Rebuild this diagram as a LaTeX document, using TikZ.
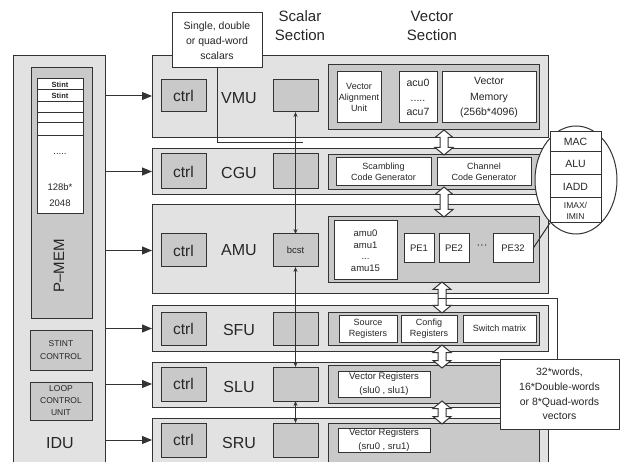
\documentclass[tikz,border=0pt]{standalone}
\usepackage{fontspec}
\setmainfont{Liberation Sans}
\usetikzlibrary{arrows.meta,shapes.geometric}
\definecolor{linec}{gray}{0.2}
\definecolor{rowgray}{gray}{0.885}
\definecolor{boxgray}{gray}{0.79}
% box given by its corners: name, style, x1, y1, x2, y2, text
\newcommand\cell[7]{\node[#2,anchor=north west,minimum width={(#5-#3)*1pt},minimum height={(#6-#4)*1pt}] (#1) at (#3,#4) {#7};}
\newcommand\fs[2]{\fontsize{#1}{#2}\selectfont}
% white double-headed bus arrow: x, top tip, bottom tip
\newcommand\busarrow[3]{\draw[frame,fill=white] (#1,#2) -- (#1+9,#2+7.5) -- (#1+4,#2+7.5) -- (#1+4,#3-7.5) -- (#1+9,#3-7.5) -- (#1,#3) -- (#1-9,#3-7.5) -- (#1-4,#3-7.5) -- (#1-4,#2+7.5) -- (#1-9,#2+7.5) -- cycle;}
\begin{document}
\begin{tikzpicture}[x=1pt,y=-1pt,
  every node/.style={inner sep=1pt,outer sep=0pt,text=black!85},
  frame/.style={draw=linec,line width=1pt},
  unitrow/.style={frame,fill=rowgray},
  darkbox/.style={frame,fill=boxgray},
  whitebox/.style={frame,fill=white},
  ctrlbox/.style={darkbox,font=\fs{15.5}{17}},
  unitlbl/.style={font=\fs{16}{18}},
  small/.style={font=\fs{9}{11},align=center},
  feed/.style={frame,-{Triangle[length=10pt,width=8pt]}},
  scalbus/.style={frame,line width=0.9pt,{Stealth[length=5pt,width=4pt]}-{Stealth[length=5pt,width=4pt]}}]
\useasboundingbox (0,0) rectangle (629,462);
\clip (0,0) rectangle (629,462);

% ---- instruction decode unit ----
\cell{idu}{unitrow}{13}{56}{105}{480}{}
\cell{pmem}{darkbox}{31}{68}{92}{318}{}
\cell{st1}{whitebox,font=\bfseries\fs{7.5}{8}}{37}{79}{83}{90}{Stint}
\cell{st2}{whitebox,font=\bfseries\fs{7.5}{8}}{37}{90}{83}{102}{Stint}
\cell{st3}{whitebox}{37}{102}{83}{113}{}
\cell{st4}{whitebox}{37}{113}{83}{123}{}
\cell{st5}{whitebox}{37}{123}{83}{136}{}
\cell{st6}{whitebox}{37}{136}{83}{214}{}
\node[font=\fs{9.5}{11}] (stdots) at (60,154) {.....};
\node[font=\fs{9.5}{16},align=center] (stsize) at (60,195) {128b*\\2048};
\node[rotate=90,font=\fs{15}{17}] (pmemtxt) at (59,266) {P\textendash MEM};
\cell{stintctl}{darkbox,font=\fs{8.5}{13},align=center}{30}{330}{92}{370}{STINT\\CONTROL}
\cell{loopctl}{darkbox,font=\fs{8.5}{12},align=center}{30}{382}{92}{420}{LOOP\\CONTROL\\UNIT}
\node[font=\fs{16}{18}] (idutxt) at (60,443) {IDU};

% ---- section headings ----
\node[font=\fs{15}{19},align=center] (scalhead) at (300,26) {Scalar\\Section};
\node[font=\fs{15}{19},align=center] (vechead) at (432,26) {Vector\\Section};

% ---- unit rows ----
\cell{vmu}{unitrow}{152}{56}{548}{138}{}
\cell{cgu}{unitrow}{152}{149}{548}{195}{}
\cell{amu}{unitrow}{152}{205}{548}{294}{}
\cell{sfu}{unitrow}{152}{306}{548}{351}{}
\cell{slu}{unitrow}{152}{362}{548}{407}{}
\cell{sru}{unitrow}{152}{418}{548}{480}{}

% control boxes
\cell{vmuctrl}{ctrlbox}{161}{80}{206}{112}{ctrl}
\cell{cguctrl}{ctrlbox}{161}{154}{206}{189}{ctrl}
\cell{amuctrl}{ctrlbox}{161}{234}{206}{267}{ctrl}
\cell{sfuctrl}{ctrlbox}{161}{312}{206}{345}{ctrl}
\cell{sluctrl}{ctrlbox}{161}{367}{206}{401}{ctrl}
\cell{sructrl}{ctrlbox}{161}{423}{206}{457}{ctrl}

% unit names
\node[unitlbl] (vmutxt) at (239,98) {VMU};
\node[unitlbl] (cgutxt) at (239,172.5) {CGU};
\node[unitlbl] (amutxt) at (239,250) {AMU};
\node[unitlbl] (sfutxt) at (239,329.5) {SFU};
\node[unitlbl] (slutxt) at (239,387) {SLU};
\node[unitlbl] (srutxt) at (239,442.5) {SRU};

% scalar boxes
\cell{vmuscal}{darkbox}{273}{80}{318}{112}{}
\cell{cguscal}{darkbox}{273}{154}{318}{189}{}
\cell{amuscal}{darkbox,font=\fs{9.5}{11}}{273}{234}{318}{267}{bcst}
\cell{sfuscal}{darkbox}{273}{312}{318}{345}{}
\cell{sluscal}{darkbox}{273}{367}{318}{401}{}
\cell{sruscal}{darkbox}{273}{423}{318}{457}{}

% ---- vector section ----
\cell{vmuvec}{darkbox}{328}{65}{539}{130}{}
\cell{vau}{whitebox,font=\fs{9}{11},align=center}{337}{72}{381}{123}{Vector\\Alignment\\Unit}
\cell{acu}{whitebox,font=\fs{10.5}{14.5},align=center}{399}{72}{437}{123}{acu0\\.....\\acu7}
\cell{vmem}{whitebox,font=\fs{10.5}{15.5},align=center}{442}{72}{536}{123}{Vector\\Memory\\(256b*4096)}

\cell{cguvec}{darkbox}{328}{155}{539}{190}{}
\cell{scram}{whitebox,small}{336}{158}{431}{186}{Scambling\\Code Generator}
\cell{chan}{whitebox,small}{437}{158}{531}{186}{Channel\\Code Generator}

\cell{amuvec}{darkbox}{328}{217}{539}{283}{}
\cell{amureg}{whitebox,font=\fs{9.5}{11.5},align=center}{334}{221}{397}{280}{amu0\\amu1\\...\\amu15}
\cell{pe1}{whitebox,font=\fs{9.5}{11}}{404}{234}{434}{263}{PE1}
\cell{pe2}{whitebox,font=\fs{9.5}{11}}{439}{234}{469}{263}{PE2}
\node[font=\fs{11}{12}] (pedots) at (482,247) {\textperiodcentered\textperiodcentered\textperiodcentered};
\cell{pe32}{whitebox,font=\fs{9.5}{11}}{493}{234}{533}{263}{PE32}

\cell{sfuvec}{darkbox}{328}{312}{539}{345}{}
\cell{srcreg}{whitebox,small}{339}{315}{397}{342}{Source\\Registers}
\cell{cfgreg}{whitebox,small}{401}{315}{457}{342}{Config\\Registers}
\cell{swm}{whitebox,small}{463}{315}{536}{342}{Switch matrix}

\cell{sluvec}{darkbox}{328}{365}{539}{403}{}
\cell{sluvr}{whitebox,font=\fs{9.5}{14},align=center}{338}{371}{430}{397}{Vector Registers\\(slu0 , slu1)}
\cell{sruvec}{darkbox}{328}{423}{539}{480}{}
\cell{sruvr}{whitebox,font=\fs{9.5}{14},align=center}{338}{428}{430}{452}{Vector Registers\\(sru0 , sru1)}

% ---- control feeds from the IDU ----
\foreach \u in {vmu,cgu,amu,sfu,slu,sru}
  \draw[feed] (idu.east |- \u ctrl.center) -- (\u.west |- \u ctrl.center);

% ---- scalar broadcast lines ----
\draw[scalbus] (vmuscal.south) -- (amuscal.north);
\draw[scalbus] (amuscal.south) -- (sluscal.north);
\draw[scalbus] (sluscal.south) -- (sruscal.north);

% ---- vector buses between rows ----
\busarrow{444}{130}{155}
\busarrow{444}{187}{217}
\busarrow{442}{282}{313}
\busarrow{442}{345}{368}
\busarrow{442}{401}{424}

% ---- notes and their leaders ----
\cell{scalnote}{whitebox,font=\fs{10.5}{15},align=center}{172}{13}{262}{68}{Single, double\\or quad-word\\scalars}
\cell{wordsnote}{whitebox,font=\fs{10.5}{14.7},align=center}{500}{359}{619}{429}{32*words,\\16*Double-words\\or 8*Quad-words\\vectors}
\coordinate (scalend) at (303,143);
\draw[frame] (scalnote.south) |- (scalend);
\coordinate (wordsend) at (438,299);
\draw[frame] ([xshift=-2.5pt]wordsnote.north) |- (wordsend);

% ---- PE function units ----
\node[frame,fill=white,ellipse,minimum width=82,minimum height=108,inner sep=0pt] (fuoval) at (576,180) {};
\cell{mac}{whitebox,font=\fs{10.5}{12}}{550}{132}{601}{152}{MAC}
\cell{alu}{whitebox,font=\fs{10.5}{12}}{550}{152}{601}{175}{ALU}
\cell{iadd}{whitebox,font=\fs{10.5}{12}}{550}{175}{601}{198}{IADD}
\cell{imax}{whitebox,font=\fs{8.5}{11},align=center}{550}{198}{601}{223}{IMAX/\\IMIN}
\draw[frame] (imax.south west) -- (pe32.east);
\end{tikzpicture}
\end{document}
